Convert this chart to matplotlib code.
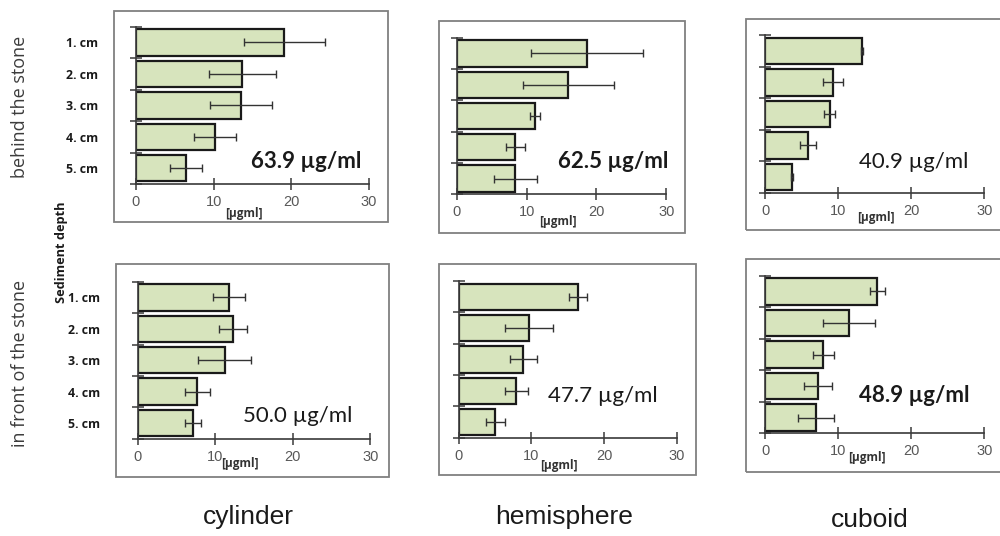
import matplotlib
matplotlib.use("Agg")
import matplotlib.pyplot as plt
from matplotlib.patches import Rectangle
import numpy as np

# ---------------- data ----------------
categories = ["1. cm", "2. cm", "3. cm", "4. cm", "5. cm"]
shapes = ["cylinder", "hemisphere", "cuboid"]
row_labels = ["behind the stone", "in front of the stone"]
y_title = "Sediment depth"
x_unit = "[µgml]"
x_ticks = [0, 10, 20, 30]

behind_cylinder = [19.1, 13.7, 13.5, 10.2, 6.4]
behind_cylinder_err = [5.2, 4.3, 4.0, 2.7, 2.05]
behind_hemisphere = [18.7, 16.0, 11.2, 8.4, 8.4]
behind_hemisphere_err = [8.0, 6.5, 0.7, 1.4, 3.1]
behind_cuboid = [13.3, 9.3, 8.8, 5.85, 3.7]
behind_cuboid_err = [0.15, 1.35, 0.8, 1.05, 0.15]

front_cylinder = [11.8, 12.3, 11.2, 7.7, 7.1]
front_cylinder_err = [2.1, 1.8, 3.4, 1.6, 1.05]
front_hemisphere = [16.35, 9.7, 8.9, 7.9, 5.0]
front_hemisphere_err = [1.25, 3.3, 1.9, 1.6, 1.3]
front_cuboid = [15.35, 11.5, 8.0, 7.25, 7.0]
front_cuboid_err = [1.05, 3.6, 1.45, 1.9, 2.45]

totals = ["63.9 µg/ml", "62.5 µg/ml", "40.9 µg/ml",
          "50.0 µg/ml", "47.7 µg/ml", "48.9 µg/ml"]
totals_bold = [True, True, False, False, False, True]

values = [behind_cylinder, behind_hemisphere, behind_cuboid,
          front_cylinder, front_hemisphere, front_cuboid]
errors = [behind_cylinder_err, behind_hemisphere_err, behind_cuboid_err,
          front_cylinder_err, front_hemisphere_err, front_cuboid_err]

# ---------------- layout (pixels) ----------------
W, H = 1000, 536
# axes: x0, x30, ytop, ybottom
axes_px = [(136, 369, 26.7, 184), (456.7, 666.3, 37.7, 194.3), (765.3, 984.3, 35, 192.7),
           (137.7, 370.3, 281.7, 438.7), (458.7, 677, 281, 437.7), (765, 984.3, 275.7, 433.3)]
# frames: left, right, top, bottom
frames_px = [(114, 387.5, 10.5, 222), (439, 685, 21, 232.7), (746, 1010, 19, 230),
             (116, 388.7, 264, 476.7), (439, 695.5, 264.3, 475), (746, 1010, 259, 472)]
# total text: left x, baseline y
totals_px = [(251, 168), (558, 168), (859, 168), (243, 422), (548, 402), (859, 402)]
# unit label centers
unit_px = [(244, 213), (558, 222), (876, 217), (240, 463), (559, 465), (867, 457)]

fig = plt.figure(figsize=(W / 100, H / 100), dpi=100)
fig.patch.set_facecolor("white")

bar_color = "#d7e4bd"
axis_color = "#3a3a3a"
y = np.arange(len(categories))

for i in range(6):
    x0, x30, yt, yb = axes_px[i]
    fl, fr, ft, fb = frames_px[i]
    fig.patches.append(Rectangle((fl / W, 1 - fb / H), (fr - fl) / W, (fb - ft) / H,
                                 transform=fig.transFigure, fill=False,
                                 edgecolor="#808080", linewidth=1.3, zorder=0))
    ax = fig.add_axes([x0 / W, 1 - yb / H, (x30 - x0) / W, (yb - yt) / H])
    ax.patch.set_alpha(0)
    ax.barh(y, values[i], height=0.84, color=bar_color, edgecolor="#1a1a1a",
            linewidth=1.6, zorder=2)
    ax.errorbar(values[i], y, xerr=errors[i], fmt="none", ecolor="#333333",
                elinewidth=1.0, capsize=2.8, capthick=1.0, zorder=3)
    ax.set_xlim(0, 30)
    ax.set_ylim(len(categories) - 0.5, -0.5)
    for s in ["top", "right"]:
        ax.spines[s].set_visible(False)
    for s in ["left", "bottom"]:
        ax.spines[s].set_color(axis_color)
        ax.spines[s].set_linewidth(1.2)
    ax.set_xticks(x_ticks)
    ax.set_xticklabels([str(t) for t in x_ticks], fontsize=10.5,
                       color="#585858", family="Liberation Sans")
    ax.tick_params(axis="x", direction="inout", length=8, width=1.1,
                   color=axis_color, pad=4)
    ax.set_yticks(np.arange(-0.5, len(categories), 1.0), minor=True)
    ax.tick_params(axis="y", which="minor", direction="inout", length=8,
                   width=1.1, color=axis_color)
    ax.set_yticks(y)
    if i % 3 == 0:
        ax.set_yticklabels(categories, fontsize=8.8, fontweight="bold",
                           family="Open Sans", color="#1a1a1a")
        ax.tick_params(axis="y", which="major", length=0, pad=27)
    else:
        ax.set_yticklabels([])
        ax.tick_params(axis="y", which="major", length=0)
    ax.set_axisbelow(False)

    tx, ty = totals_px[i]
    fig.text(tx / W, 1 - ty / H, totals[i], ha="left", va="baseline",
             fontsize=16, family="Lato",
             fontweight="bold" if totals_bold[i] else "normal", color="#1a1a1a")
    ux, uy = unit_px[i]
    fig.text(ux / W, 1 - uy / H, x_unit, ha="center", va="center",
             fontsize=8.5, family="Open Sans", fontweight="bold", color="#333333")

# row labels
fig.text(20 / W, 1 - 107 / H, row_labels[0], rotation=90, ha="center", va="center",
         fontsize=13, family="Open Sans", color="#3c3c3c")
fig.text(20 / W, 1 - 363 / H, row_labels[1], rotation=90, ha="center", va="center",
         fontsize=13, family="Open Sans", color="#3c3c3c")
fig.text(62 / W, 1 - 252 / H, y_title, rotation=90, ha="center", va="center",
         fontsize=9.2, family="Open Sans", fontweight="bold", color="#1a1a1a")

# column labels
col_px = [(248, 517), (564, 517), (870, 520)]
for name, (cx, cy) in zip(shapes, col_px):
    fig.text(cx / W, 1 - cy / H, name, ha="center", va="center",
             fontsize=19, family="Liberation Sans", color="#1a1a1a")

fig.savefig("out.png", dpi=100)
